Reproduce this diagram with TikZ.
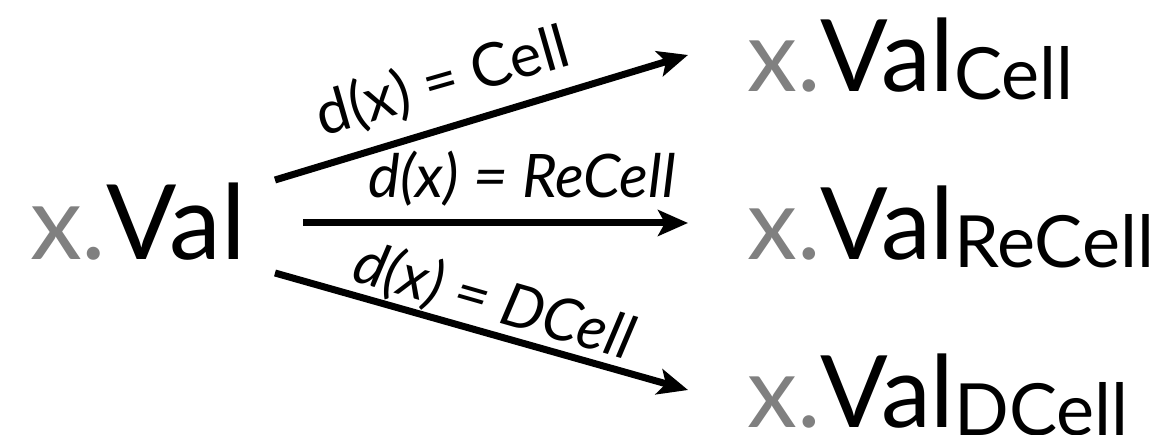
\documentclass[tikz,border=0pt]{standalone}
\usepackage{fontspec}
\setmainfont{Lato}
\usetikzlibrary{arrows.meta}
\definecolor{xgray}{HTML}{808080}
\begin{document}
\begin{tikzpicture}[x=1pt,y=1pt,
  srcval/.style={inner sep=0pt, anchor=base west, font=\fontsize{104}{104}\selectfont},
  tgtval/.style={inner sep=0pt, anchor=base west, font=\fontsize{100}{100}\selectfont},
  lbl/.style={inner sep=0pt, font=\fontsize{60}{60}\selectfont},
  arr/.style={line width=7pt, -{Stealth[length=30pt,width=26pt,inset=7pt]}}]
\useasboundingbox (0,0) rectangle (1170,435);
\newcommand{\subtxt}[1]{\raisebox{-8pt}{\fontsize{72}{72}\selectfont #1}}
\node[srcval] (src) at (30,175) {\textcolor{xgray}{x.}Val};
\node[tgtval] (t1) at (747,343) {\textcolor{xgray}{x.}Val\subtxt{Cell}};
\node[tgtval] (t2) at (747,175) {\textcolor{xgray}{x.}Val\subtxt{ReCell}};
\node[tgtval] (t3) at (747,7) {\textcolor{xgray}{x.}Val\subtxt{DCell}};
\coordinate (s1) at (275,255);
\coordinate (e1) at (688,380);
\coordinate (s2) at (303,212);
\coordinate (e2) at (688,212);
\coordinate (s3) at (275,162);
\coordinate (e3) at (688,45);
\draw[arr] (s1) -- (e1);
\draw[arr] (s2) -- (e2);
\draw[arr] (s3) -- (e3);
\node[lbl, rotate=16] (l1) at (443,353) {d(x) = Cell};
\node[lbl, anchor=base] (l2) at (522,237) {\itshape d(x) = ReCell};
\node[lbl, rotate=-16] (l3) at (494,133) {\itshape d(x) = DCell};
\end{tikzpicture}
\end{document}
